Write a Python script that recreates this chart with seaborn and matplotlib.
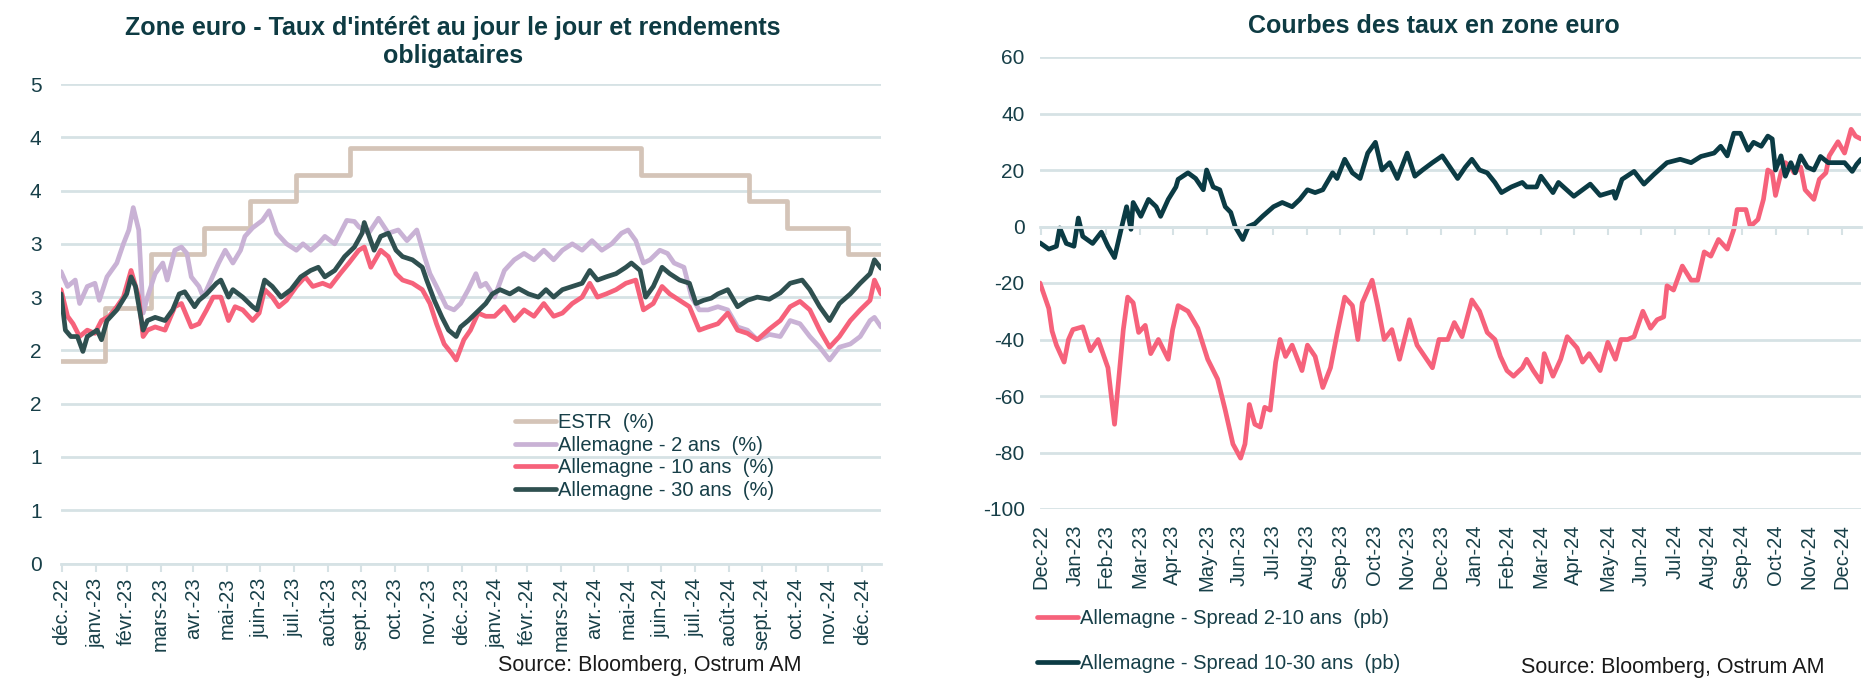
import numpy as np
import pandas as pd
import seaborn as sns
import matplotlib.pyplot as plt

sns.set_theme(style="white")
plt.rcParams['font.family'] = ['Liberation Sans', 'DejaVu Sans']
plt.rcParams['axes.unicode_minus'] = False

# ---- donnees ----
debut = pd.Timestamp('2022-12-30')
fin = pd.Timestamp('2025-01-17')

# ESTR : dates de changement et niveaux (%)
estr_dates = ['2022-12-30', '2023-02-08', '2023-03-22', '2023-05-10', '2023-06-21', '2023-08-02',
              '2023-09-20', '2024-06-12', '2024-09-18', '2024-10-23', '2024-12-18', '2025-01-17']
estr_vals = [1.90, 2.40, 2.90, 3.15, 3.40, 3.65, 3.90, 3.65, 3.40, 3.15, 2.90, 2.90]

# rendements (%) : jours depuis le 30/12/2022, valeur
jours_2 = [0, 6, 13, 17, 24, 31, 35, 42, 51, 57, 62, 66, 71, 75, 79, 86, 93, 97, 104, 110,
           115, 119, 126, 130, 137, 144, 150, 157, 164, 168, 175, 184, 190, 197, 206, 215, 221, 228, 235, 241,
           250, 255, 261, 268, 272, 281, 290, 299, 308, 316, 325, 332, 337, 343, 352, 359, 365, 372, 379, 383,
           388, 396, 405, 414, 423, 432, 441, 450, 458, 467, 476, 485, 494, 503, 512, 518, 525, 532, 538, 547,
           554, 560, 569, 576, 583, 591, 600, 609, 618, 627, 636, 647, 657, 666, 675, 684, 693, 702, 711, 721,
           730, 739, 743, 749]
taux_2 = [2.74, 2.60, 2.66, 2.44, 2.60, 2.63, 2.47, 2.69, 2.82, 3.00, 3.13, 3.34, 3.13, 2.35, 2.50, 2.72, 2.82, 2.66, 2.94, 2.97,
          2.91, 2.69, 2.60, 2.50, 2.66, 2.82, 2.94, 2.82, 2.94, 3.07, 3.15, 3.22, 3.31, 3.10, 3.00, 2.94, 3.00, 2.94, 3.00, 3.07,
          3.00, 3.10, 3.22, 3.21, 3.16, 3.10, 3.24, 3.10, 3.13, 3.03, 3.13, 2.88, 2.72, 2.60, 2.41, 2.38, 2.44, 2.57, 2.72, 2.60,
          2.63, 2.50, 2.75, 2.85, 2.91, 2.85, 2.94, 2.85, 2.94, 3.00, 2.94, 3.03, 2.94, 3.00, 3.10, 3.13, 3.03, 2.82, 2.85, 2.94,
          2.91, 2.82, 2.78, 2.50, 2.38, 2.38, 2.41, 2.38, 2.22, 2.19, 2.10, 2.15, 2.13, 2.28, 2.25, 2.13, 2.03, 1.91, 2.03, 2.06,
          2.13, 2.28, 2.31, 2.22]
jours_10 = [0, 6, 11, 17, 24, 31, 37, 44, 51, 57, 64, 71, 75, 79, 86, 95, 104, 110, 119, 126,
            133, 139, 146, 153, 159, 166, 175, 181, 186, 193, 199, 206, 215, 223, 230, 239, 246, 255, 263, 272,
            277, 283, 292, 299, 306, 312, 321, 330, 337, 343, 350, 357, 361, 368, 374, 381, 388, 396, 405, 414,
            423, 432, 441, 450, 458, 467, 476, 483, 490, 498, 507, 516, 525, 532, 541, 549, 556, 565, 574, 583,
            591, 600, 609, 618, 627, 636, 647, 657, 666, 675, 684, 693, 702, 711, 721, 730, 739, 743, 749]
taux_10 = [2.57, 2.32, 2.25, 2.13, 2.19, 2.16, 2.28, 2.32, 2.41, 2.50, 2.75, 2.50, 2.13, 2.19, 2.22, 2.19, 2.41, 2.44, 2.22, 2.25,
           2.38, 2.50, 2.50, 2.28, 2.41, 2.38, 2.28, 2.35, 2.57, 2.50, 2.41, 2.47, 2.60, 2.69, 2.60, 2.63, 2.60, 2.72, 2.82, 2.94,
           2.97, 2.78, 2.94, 2.88, 2.72, 2.66, 2.63, 2.57, 2.44, 2.25, 2.06, 1.97, 1.91, 2.10, 2.19, 2.35, 2.32, 2.32, 2.41, 2.28,
           2.38, 2.32, 2.44, 2.32, 2.35, 2.44, 2.50, 2.63, 2.50, 2.53, 2.57, 2.63, 2.66, 2.38, 2.44, 2.60, 2.53, 2.47, 2.41, 2.19,
           2.22, 2.25, 2.35, 2.19, 2.16, 2.10, 2.20, 2.28, 2.41, 2.46, 2.38, 2.19, 2.03, 2.13, 2.28, 2.38, 2.47, 2.66, 2.53]
jours_30 = [0, 4, 9, 15, 20, 24, 33, 37, 42, 51, 60, 64, 68, 75, 79, 86, 95, 102, 108, 113,
            122, 126, 133, 142, 146, 153, 157, 166, 175, 179, 186, 193, 201, 210, 219, 228, 235, 241, 250, 259,
            268, 275, 277, 286, 292, 299, 306, 312, 321, 330, 334, 341, 348, 354, 361, 365, 372, 379, 388, 394,
            401, 410, 418, 427, 436, 443, 450, 458, 467, 476, 483, 490, 498, 507, 516, 521, 529, 534, 541, 549,
            556, 565, 574, 580, 587, 594, 600, 609, 618, 627, 636, 647, 657, 666, 677, 684, 693, 702, 711, 721,
            730, 739, 743, 749]
taux_30 = [2.53, 2.19, 2.13, 2.13, 1.99, 2.13, 2.19, 2.10, 2.28, 2.38, 2.53, 2.69, 2.60, 2.19, 2.28, 2.31, 2.28, 2.38, 2.53, 2.55,
           2.41, 2.47, 2.53, 2.63, 2.66, 2.50, 2.57, 2.50, 2.41, 2.38, 2.66, 2.60, 2.50, 2.57, 2.69, 2.75, 2.78, 2.69, 2.75, 2.88,
           2.97, 3.10, 3.20, 2.94, 3.07, 3.10, 2.94, 2.88, 2.85, 2.78, 2.66, 2.47, 2.31, 2.19, 2.13, 2.22, 2.28, 2.35, 2.44, 2.53,
           2.57, 2.53, 2.58, 2.53, 2.50, 2.57, 2.50, 2.57, 2.60, 2.63, 2.75, 2.66, 2.69, 2.72, 2.78, 2.82, 2.75, 2.50, 2.60, 2.78,
           2.72, 2.66, 2.63, 2.44, 2.47, 2.49, 2.53, 2.57, 2.41, 2.47, 2.50, 2.48, 2.54, 2.63, 2.66, 2.57, 2.41, 2.28, 2.44, 2.53,
           2.63, 2.72, 2.85, 2.77]

# spreads (pb) : jours depuis le 30/12/2022, valeur
jours_210 = [0, 8, 11, 15, 22, 26, 30, 39, 46, 53, 62, 68, 76, 80, 85, 90, 96, 101, 108, 117,
             121, 126, 135, 144, 153, 162, 169, 176, 183, 187, 191, 196, 201, 205, 210, 215, 219, 224, 230, 239,
             244, 251, 258, 265, 271, 278, 285, 290, 294, 303, 308, 314, 321, 328, 337, 344, 351, 358, 364, 372,
             378, 385, 394, 401, 408, 415, 420, 426, 432, 440, 444, 450, 457, 460, 468, 475, 481, 490, 495, 501,
             511, 518, 525, 530, 536, 542, 550, 557, 563, 569, 572, 578, 586, 594, 600, 606, 612, 619, 627, 633,
             636, 644, 648, 655, 660, 664, 668, 671, 676, 680, 685, 688, 694, 698, 706, 711, 717, 720, 728, 734,
             740, 744, 749]
spread_210 = [-20, -29, -37, -42, -48, -40, -36.5, -35.5, -44, -40, -50, -70, -36.5, -25, -27, -37.5, -35, -45, -40, -47,
              -36.5, -28, -30, -36, -47, -54, -65, -77, -82, -77, -63, -70, -71, -64, -65, -48, -40, -46, -42, -51,
              -42, -46, -57, -50, -38, -25, -28, -40, -27, -19, -28, -40, -36.5, -47, -33, -42, -46, -50, -40, -40,
              -34, -39, -26, -30, -37.5, -40, -46, -51, -53, -50, -47, -51, -55, -45, -53, -47, -39, -43, -48, -45,
              -51, -41, -47, -40, -40, -39, -30, -36, -33, -32, -21, -22.5, -14, -19, -19, -9, -10.5, -4.6, -8, -1,
              6, 6, 0, 2.5, 9.6, 20, 19, 11, 19, 22.6, 21, 19, 21, 13, 9.6, 16.7, 19, 25, 30, 26,
              34.4, 32, 31]
jours_1030 = [0, 8, 15, 18, 24, 31, 35, 39, 48, 56, 62, 68, 74, 79, 83, 85, 92, 99, 106, 110,
              117, 124, 126, 135, 142, 149, 152, 158, 164, 169, 174, 178, 185, 190, 196, 203, 213, 221, 230, 237,
              244, 251, 258, 267, 271, 278, 285, 292, 299, 306, 312, 319, 326, 335, 342, 349, 358, 367, 374, 381,
              388, 394, 401, 408, 415, 421, 430, 440, 444, 453, 457, 468, 473, 487, 502, 511, 523, 525, 531, 542,
              551, 560, 572, 584, 594, 603, 615, 621, 627, 633, 639, 646, 651, 658, 664, 668, 671, 676, 680, 685,
              689, 694, 700, 706, 712, 719, 724, 734, 741, 745, 749]
spread_1030 = [-5.8, -8, -7, -0.5, -6, -7, 3, -3.5, -6, -2, -7, -11, -1, 7, -1, 8.5, 3.6, 9.6, 7, 3.6,
               9.6, 14, 16.7, 19, 17, 13, 20, 14, 13, 7, 5, 0, -4.6, 0, 1, 3.6, 7, 8.5, 7, 9.6,
               13, 12, 13, 19, 17, 23.8, 19, 17, 26, 29.8, 20, 22.6, 17, 26, 17.8, 20, 22.6, 25, 21, 17,
               21, 23.8, 20, 19, 15.6, 12, 14, 15.6, 14, 14, 17.8, 12, 15.6, 10.7, 15, 11, 12.4, 10, 16.7, 19.5,
               15, 18.4, 22.6, 23.8, 22.6, 24.8, 26, 28.4, 25, 33, 33, 27, 29.8, 28.4, 32, 31, 20, 25, 17.8, 22.6,
               19, 25, 21, 20, 24.8, 22.6, 22.6, 22.6, 19.5, 22, 23.8]

mois_fr = ['déc.-22', 'janv.-23', 'févr.-23', 'mars-23', 'avr.-23', 'mai-23', 'juin-23', 'juil.-23',
           'août-23', 'sept.-23', 'oct.-23', 'nov.-23', 'déc.-23', 'janv.-24', 'févr.-24', 'mars-24',
           'avr.-24', 'mai-24', 'juin-24', 'juil.-24', 'août-24', 'sept.-24', 'oct.-24', 'nov.-24', 'déc.-24']
mois_en = ['Dec-22', 'Jan-23', 'Feb-23', 'Mar-23', 'Apr-23', 'May-23', 'Jun-23', 'Jul-23', 'Aug-23',
           'Sep-23', 'Oct-23', 'Nov-23', 'Dec-23', 'Jan-24', 'Feb-24', 'Mar-24', 'Apr-24', 'May-24',
           'Jun-24', 'Jul-24', 'Aug-24', 'Sep-24', 'Oct-24', 'Nov-24', 'Dec-24']

# ---- style ----
c_estr = '#D4C4B8'
c_2 = '#C9B2D5'
c_10 = '#F6627B'
c_30 = '#2F5050'
c_1030 = '#0B3B44'
c_grid = '#D6E2E5'
c_txt = '#173F48'
lw = 3.4


def serie(jours, vals):
    return pd.DataFrame({'date': debut + pd.to_timedelta(jours, unit='D'), 'v': vals})


fig = plt.figure(figsize=(18.76, 6.95), dpi=100)
ax1 = fig.add_axes([61 / 1876, 1 - 563.5 / 695, 820 / 1876, 479.5 / 695])
ax2 = fig.add_axes([1040 / 1876, 1 - 509 / 695, 821 / 1876, 452 / 695])

estr = pd.DataFrame({'date': pd.to_datetime(estr_dates), 'v': estr_vals})
sns.lineplot(data=estr, x='date', y='v', ax=ax1, color=c_estr, lw=lw,
             drawstyle='steps-post', label='ESTR  (%)')
sns.lineplot(data=serie(jours_2, taux_2), x='date', y='v', ax=ax1, color=c_2, lw=lw,
             label='Allemagne - 2 ans  (%)')
sns.lineplot(data=serie(jours_10, taux_10), x='date', y='v', ax=ax1, color=c_10, lw=lw,
             label='Allemagne - 10 ans  (%)')
sns.lineplot(data=serie(jours_30, taux_30), x='date', y='v', ax=ax1, color=c_30, lw=lw,
             label='Allemagne - 30 ans  (%)')

sns.lineplot(data=serie(jours_210, spread_210), x='date', y='v', ax=ax2, color=c_10, lw=lw,
             label='Allemagne - Spread 2-10 ans  (pb)')
sns.lineplot(data=serie(jours_1030, spread_1030), x='date', y='v', ax=ax2, color=c_1030, lw=lw,
             label='Allemagne - Spread 10-30 ans  (pb)')

ticks = pd.date_range('2022-12-31', periods=25, freq='ME')

for ax in (ax1, ax2):
    ax.set_xlim(debut, fin)
    ax.set_xlabel('')
    ax.set_ylabel('')
    ax.yaxis.grid(True, color=c_grid, lw=2)
    ax.set_axisbelow(True)
    for s in ax.spines.values():
        s.set_visible(False)
    ax.tick_params(axis='y', length=0, labelsize=15, labelcolor=c_txt)

# axe de gauche
ax1.set_ylim(0, 4.5)
yt = np.arange(0, 4.51, 0.5)
ax1.set_yticks(yt)
ax1.set_yticklabels([str(int(v + 0.5)) for v in yt])
ax1.tick_params(axis='y', pad=14)
ax1.set_xticks(ticks)
ax1.set_xticklabels(mois_fr, rotation=90)
ax1.tick_params(axis='x', length=6, width=1.5, color=c_grid, labelsize=14.5,
                labelcolor=c_txt, pad=4, bottom=True)
ax1.spines['bottom'].set_visible(True)
ax1.spines['bottom'].set_color(c_grid)
ax1.spines['bottom'].set_linewidth(2)
ax1.legend(loc='upper left', bbox_to_anchor=(0.541, 0.335), frameon=False, fontsize=14.5,
           labelspacing=0.18, handlelength=2.05, handletextpad=0.08, borderpad=0,
           labelcolor=c_txt)

# axe de droite
ax2.set_ylim(-100, 60)
ax2.set_yticks(range(-100, 61, 20))
ax2.tick_params(axis='y', pad=11)
ax2.spines['bottom'].set_visible(True)
ax2.spines['bottom'].set_position(('data', 0))
ax2.spines['bottom'].set_color(c_grid)
ax2.spines['bottom'].set_linewidth(2)
ax2.set_xticks(ticks)
ax2.tick_params(axis='x', length=6, width=1.5, color=c_grid, labelbottom=False, bottom=True)
sec = ax2.secondary_xaxis('bottom')
sec.set_xticks(ticks)
sec.set_xticklabels(mois_en, rotation=90)
sec.tick_params(axis='x', length=0, labelsize=14.5, labelcolor=c_txt, pad=11)
for s in sec.spines.values():
    s.set_visible(False)
ax2.legend(loc='upper left', bbox_to_anchor=(-0.016, -0.2), frameon=False, fontsize=14.5,
           labelspacing=1.25, handlelength=2.05, handletextpad=0.08, borderpad=0,
           labelcolor=c_txt)

# titres et sources
fig.text(0.2415, 0.940, "Zone euro - Taux d'intérêt au jour le jour et rendements\nobligataires",
         ha='center', va='center', fontsize=18, fontweight='bold', color='#0E3B43', linespacing=1.2)
fig.text(0.7645, 0.962, 'Courbes des taux en zone euro', ha='center', va='center',
         fontsize=18, fontweight='bold', color='#0E3B43')
fig.text(498 / 1876, 1 - 666 / 695, 'Source: Bloomberg, Ostrum AM', ha='left', va='center',
         fontsize=15.5, color='#1A1A1A')
fig.text(1521 / 1876, 1 - 667 / 695, 'Source: Bloomberg, Ostrum AM', ha='left', va='center',
         fontsize=15.5, color='#1A1A1A')

fig.savefig('out.png', dpi=100)
